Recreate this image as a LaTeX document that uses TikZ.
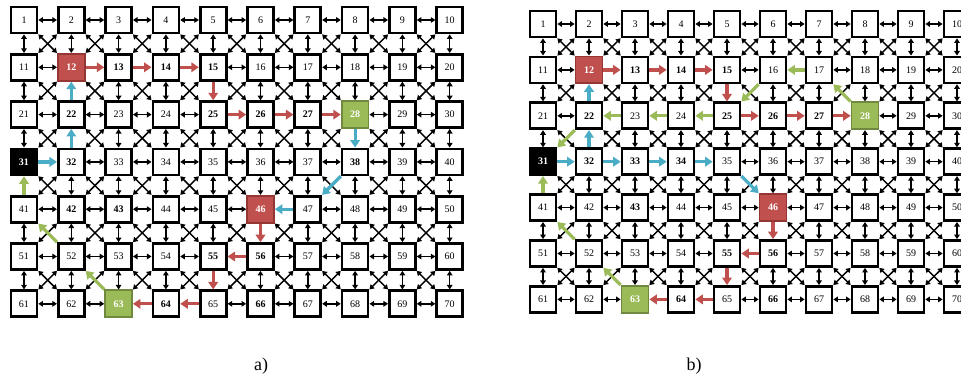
\documentclass[tikz,border=0pt]{standalone}
\usepackage{fontspec}
\setmainfont{Liberation Serif}
\usetikzlibrary{arrows.meta}
\definecolor{cred}{HTML}{C0504D}
\definecolor{credd}{HTML}{943634}
\definecolor{cgreen}{HTML}{9BBB59}
\definecolor{cgreend}{HTML}{71893F}
\definecolor{cblue}{HTML}{4BACC6}

\newcommand\skp[3]{\expandafter\gdef\csname skipX#1X#2X#3\endcsname{}\expandafter\gdef\csname skipX#1X#3X#2\endcsname{}}
\newcommand\mkskip[2]{\foreach \x/\y in #2 {\skp{#1}{\x}{\y}}}
\newcommand\drawroute[3]{\foreach \x/\y in #3 {\draw[#2] (#1\x) -- (#1\y);}}
\newcommand\mkbold[2]{\foreach \x in #2 {\expandafter\gdef\csname boldX#1X\x\endcsname{}}}
\newcommand\lnk[3]{\ifcsname skipX#1X#2X#3\endcsname\else\draw[blk] (#1#2) -- (#1#3);\fi}

\expandafter\def\csname kindX12\endcsname{redcell}
\expandafter\def\csname kindX46\endcsname{redcell}
\expandafter\def\csname kindX28\endcsname{greencell}
\expandafter\def\csname kindX63\endcsname{greencell}
\expandafter\def\csname kindX31\endcsname{blackcell}

\newcommand\grid[5]{%
 \foreach \rr in {0,...,6}{\foreach \cc in {0,...,9}{%
   \pgfmathtruncatemacro\nn{10*\rr+\cc+1}%
   \node[cell,kind=\nn] (#1\nn) at ({#2+\cc*#4},{#3+\rr*#5}) {\ifcsname boldX#1X\nn\endcsname\bfseries\fi\nn};
 }}%
 \foreach \rr in {0,...,6}{\foreach \cc in {0,...,9}{%
   \pgfmathtruncatemacro\nn{10*\rr+\cc+1}%
   \pgfmathtruncatemacro\ne{\nn+1}%
   \pgfmathtruncatemacro\ns{\nn+10}%
   \pgfmathtruncatemacro\nse{\nn+11}%
   \ifnum\cc<9 \lnk{#1}{\nn}{\ne}\fi
   \ifnum\rr<6 \lnk{#1}{\nn}{\ns}\fi
   \ifnum\cc<9 \ifnum\rr<6 \lnk{#1}{\nn}{\nse}\lnk{#1}{\ne}{\ns}\fi\fi
 }}%
}

\tikzset{
  numfont/.style={font=\fontsize{10}{10}\selectfont},
  cell/.style={draw=black, line width=2.7pt, fill=white, minimum size=26pt, inner sep=0pt, numfont},
  redcell/.style={fill=cred, draw=credd, line width=1.8pt, minimum size=26.9pt, text=white, font=\fontsize{10}{10}\selectfont\bfseries},
  greencell/.style={fill=cgreen, draw=cgreend, line width=1.8pt, minimum size=26.9pt, text=white, font=\fontsize{10}{10}\selectfont\bfseries},
  blackcell/.style={fill=black, text=white, font=\fontsize{10}{10}\selectfont\bfseries},
  kind/.code={\ifcsname kindX#1\endcsname\edef\tmpk{\csname kindX#1\endcsname}\expandafter\pgfkeysalso\expandafter{\tmpk}\fi},
  blk/.style={line width=1.45pt, {Triangle[length=4.6pt,width=5.6pt]}-{Triangle[length=4.6pt,width=5.6pt]}},
  rarr/.style={draw=cred, line width=3.2pt, -{Triangle[length=7.5pt,width=9.5pt]}},
  garr/.style={draw=cgreen, line width=3.2pt, -{Triangle[length=7.5pt,width=9.5pt]}},
  barr/.style={draw=cblue, line width=3.2pt, -{Triangle[length=7.5pt,width=9.5pt]}},
  caption/.style={font=\fontsize{18}{18}\selectfont}
}

\def\aRed{12/13,13/14,14/15,15/25,25/26,26/27,27/28,46/56,56/55,55/65,65/64,64/63}
\def\aBlue{28/38,38/47,47/46,31/32,32/22,22/12}
\def\aGreen{63/52,52/41,41/31}
\def\bRed{12/13,13/14,14/15,15/25,25/26,26/27,27/28,46/56,56/55,55/65,65/64,64/63}
\def\bBlue{31/32,32/33,33/34,34/35,35/46,32/22,22/12}
\def\bGreen{28/17,17/16,16/25,25/24,24/23,23/22,22/31,63/52,52/41,41/31}

\begin{document}
\begin{tikzpicture}[x=1pt,y=-1pt]
\clip (0,0) rectangle (961,378);
\fill[white] (0,0) rectangle (961,378);
\mkskip{a}{\aRed}\mkskip{a}{\aBlue}\mkskip{a}{\aGreen}
\mkskip{b}{\bRed}\mkskip{b}{\bBlue}\mkskip{b}{\bGreen}
\mkbold{a}{{13,14,15,22,25,26,27,32,38,42,43,55,56,64,66}}
\mkbold{b}{{13,14,15,22,25,26,27,32,33,34,43,55,56,64,66}}
\grid{a}{24}{20}{47.3}{47.3}
\grid{b}{543}{24}{46}{45.9}
\drawroute{a}{rarr}{\aRed}
\drawroute{a}{barr}{\aBlue}
\drawroute{a}{garr}{\aGreen}
\drawroute{b}{rarr}{\bRed}
\drawroute{b}{barr}{\bBlue}
\drawroute{b}{garr}{\bGreen}
\node[caption] (capa) at (261,366) {a)};
\node[caption] (capb) at (694,366) {b)};
\end{tikzpicture}
\end{document}
